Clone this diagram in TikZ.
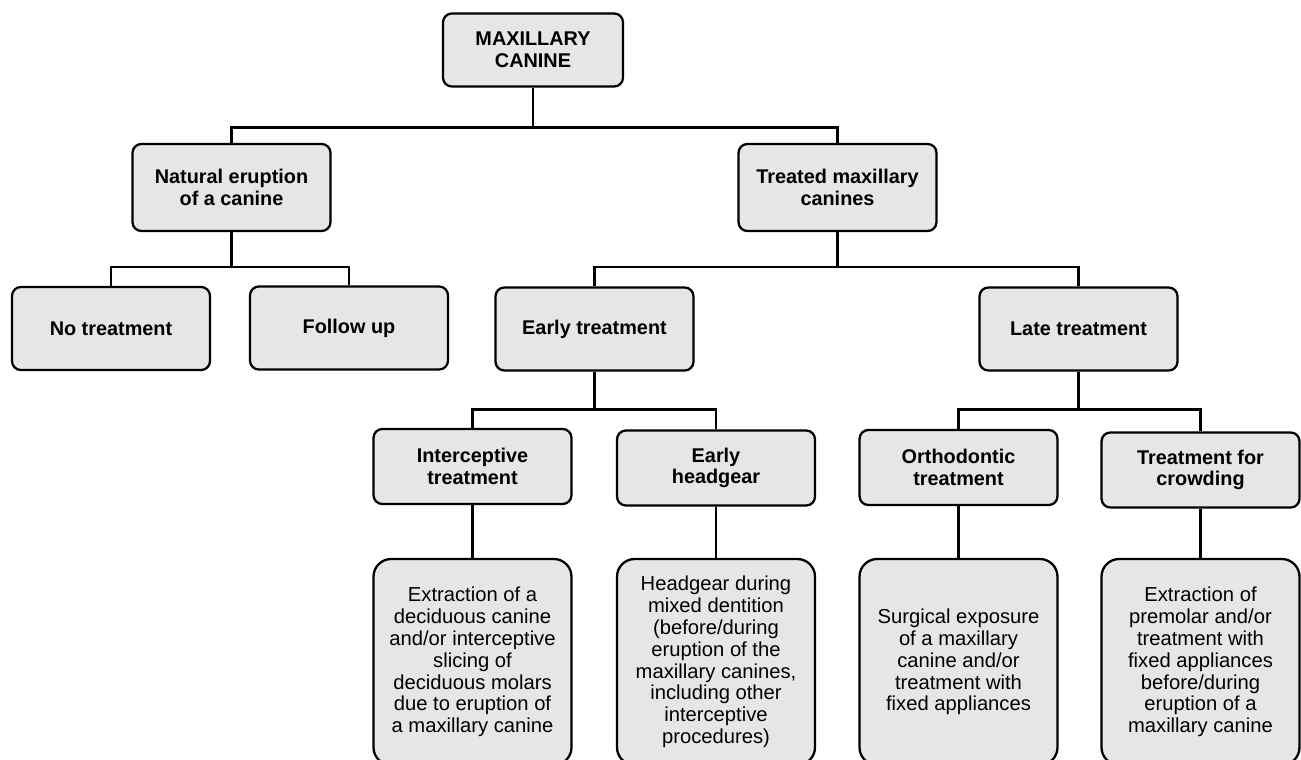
\documentclass[tikz,border=0pt]{standalone}
\usepackage{fontspec}
\setmainfont{Liberation Sans}
\definecolor{boxgray}{HTML}{E6E6E6}
\begin{document}
\begin{tikzpicture}[x=0.02cm,y=-0.02cm,
    box/.style={draw,line width=1.3pt,fill=boxgray,rounded corners=5pt,align=center,
      inner sep=2pt,minimum width=3.96cm,font=\fontsize{11.3}{12.4}\selectfont\bfseries},
    leaf/.style={box,rounded corners=10pt,minimum height=4.12cm,
      font=\fontsize{11.5}{12.4}\selectfont},
    link/.style={line width=1.3pt}]
    \useasboundingbox (0,0) rectangle (1301,760);
    \clip (0,0) rectangle (1301,760);
    % top level
    \node[box,minimum width=3.6cm,minimum height=1.46cm] (root) at (533,50) {MAXILLARY\\CANINE};
    \node[box,minimum height=1.74cm] (nat) at (231.5,187.5) {Natural eruption\\of a canine};
    \node[box,minimum height=1.74cm] (trt) at (837.5,187.5) {Treated maxillary\\canines};
    % second level
    \node[box,minimum height=1.66cm] (none) at (111,328.5) {No treatment};
    \node[box,minimum height=1.66cm] (follow) at (349,328) {Follow up};
    \node[box,minimum height=1.66cm] (early) at (594.5,329) {Early treatment};
    \node[box,minimum height=1.66cm] (late) at (1078.5,329) {Late treatment};
    % third level
    \node[box,minimum height=1.5cm] (icpt) at (472.5,466.5) {Interceptive\\treatment};
    \node[box,minimum height=1.5cm] (hgear) at (716,468) {Early\\headgear};
    \node[box,minimum height=1.5cm] (ortho) at (958.5,467.5) {Orthodontic\\treatment};
    \node[box,minimum height=1.5cm] (crowd) at (1200.5,470) {Treatment for\\crowding};
    % descriptions
    \node[leaf] (icptd) at (472.5,662) {Extraction of a\\deciduous canine\\and/or interceptive\\slicing of\\deciduous molars\\due to eruption of\\a maxillary canine};
    \node[leaf] (hgeard) at (716,662) {Headgear during\\mixed dentition\\(before/during\\eruption of the\\maxillary canines,\\including other\\interceptive\\procedures)};
    \node[leaf] (orthod) at (958.5,662) {Surgical exposure\\of a maxillary\\canine and/or\\treatment with\\fixed appliances};
    \node[leaf] (crowdd) at (1200.5,662) {Extraction of\\premolar and/or\\treatment with\\fixed appliances\\before/during\\eruption of a\\maxillary canine};
    % connectors
    \draw[link] (root.south) -- ++(0,40) -| (nat.north);
    \draw[link] (root.south) -- ++(0,40) -| (trt.north);
    \draw[link] (nat.south) -- ++(0,35) -| (none.north);
    \draw[link] (nat.south) -- ++(0,35) -| (follow.north);
    \draw[link] (trt.south) -- ++(0,35) -| (early.north);
    \draw[link] (trt.south) -- ++(0,35) -| (late.north);
    \draw[link] (early.south) -- ++(0,38) -| (icpt.north);
    \draw[link] (early.south) -- ++(0,38) -| (hgear.north);
    \draw[link] (late.south) -- ++(0,38) -| (ortho.north);
    \draw[link] (late.south) -- ++(0,38) -| (crowd.north);
    \draw[link] (icpt) -- (icptd);
    \draw[link] (hgear) -- (hgeard);
    \draw[link] (ortho) -- (orthod);
    \draw[link] (crowd) -- (crowdd);
\end{tikzpicture}
\end{document}
